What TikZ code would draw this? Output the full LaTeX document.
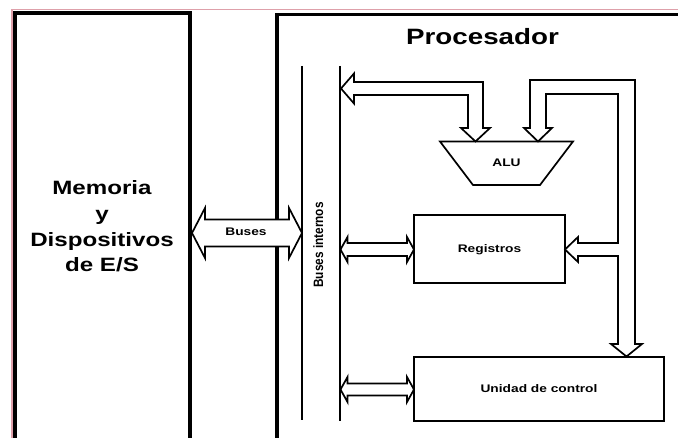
\documentclass[tikz,border=0pt]{standalone}
\usepackage{fontspec}
\setmainfont{Liberation Sans}
% horizontally widened lettering
\newcommand{\wideText}[1]{\scalebox{1.25}[1]{#1}}
% hollow double-headed horizontal arrow: x1, x2, y-centre, shaft half-height, head half-height, head length
\newcommand{\dblarrow}[6]{%
  \draw[hollow] (#1,#3) -- (#1+#6,#3-#5) -- (#1+#6,#3-#4) -- (#2-#6,#3-#4) -- (#2-#6,#3-#5)
    -- (#2,#3) -- (#2-#6,#3+#5) -- (#2-#6,#3+#4) -- (#1+#6,#3+#4) -- (#1+#6,#3+#5) -- cycle;}
\definecolor{edgepink}{RGB}{222,160,170}
\begin{document}
\begin{tikzpicture}[x=1pt,y=-1pt,
  frame/.style={line width=3.2pt,line join=miter},
  busline/.style={line width=1.7pt},
  hollow/.style={draw=black,fill=white,line width=1.7pt,line join=miter},
  box/.style={draw=black,line width=1.7pt,fill=white,inner sep=0pt,
    text height=8pt,text depth=0pt,font=\bfseries\fontsize{11}{13}\selectfont},
  lbl/.style={inner sep=0pt,anchor=base,font=\bfseries\fontsize{11}{13}\selectfont},
  big/.style={inner sep=0pt,anchor=base,font=\bfseries\fontsize{19.3}{22}\selectfont}]
\useasboundingbox (0,0) rectangle (678,438);
\fill[white] (0,0) rectangle (678,438);

% thin tinted edge
\draw[edgepink,line width=1.2pt] (12,440) -- (12,9.5) -- (680,9.5);

% memory / I-O block
\draw[frame] (15,440) -- (15,13) -- (190,13) -- (190,440);
\node[big] (m1) at (102,195) {\wideText{Memoria}};
\node[big] (m2) at (102,220.5) {\wideText{y}};
\node[big] (m3) at (102,247) {\wideText{Dispositivos}};
\node[big] (m4) at (102,272) {\wideText{de E/S}};

% processor block
\draw[frame] (277,440) -- (277,14.5) -- (680,14.5);
\node[inner sep=0pt,anchor=base,font=\bfseries\fontsize{22.2}{26}\selectfont] (proc) at (482.5,45) {\wideText{Procesador}};

% external buses
\dblarrow{192}{302}{233}{13.5}{25}{13}
\node[lbl] (buses) at (246,236) {\wideText{Buses}};

% internal bus lines
\draw[busline] (302,66) -- (302,420);
\draw[busline] (340,66) -- (340,421);
\node[inner sep=0pt,anchor=base,rotate=90,font=\bfseries\fontsize{11.8}{13}\selectfont] (bint) at (323,245) {\scalebox{1}[1.15]{Buses internos}};

% ALU
\draw[line width=1.7pt,line join=miter] (440,141.5) -- (573,141.5) -- (540,185) -- (473,185) -- cycle;
\node[lbl] (alu) at (506.5,167) {\wideText{ALU}};

% registers and control unit
\node[box,minimum width=151pt,minimum height=68pt] (reg) at (489.5,249) {\wideText{Registros}};
\node[box,minimum width=250pt,minimum height=64pt] (uc) at (539,389) {\wideText{Unidad de control}};

% internal bus <-> ALU input
\draw[hollow] (341,88.5) -- (354,73.5) -- (354,82) -- (483,82) -- (483,128) -- (490,128)
  -- (475.5,141.5) -- (461,128) -- (468,128) -- (468,95) -- (354,95) -- (354,103.5) -- cycle;

% ALU output -> ALU input, registers and control unit
\draw[hollow] (538,141.5) -- (552,128) -- (546,128) -- (546,94) -- (618,94) -- (618,243)
  -- (578,243) -- (578,237) -- (565,249.5) -- (578,262) -- (578,256) -- (618,256)
  -- (618,344) -- (611,344) -- (626.5,356.5) -- (642,344) -- (635,344) -- (635,80)
  -- (530,80) -- (530,128) -- (524,128) -- cycle;

% internal bus <-> registers / control unit
\dblarrow{340.5}{414}{249.5}{6.5}{12.5}{7}
\dblarrow{340.5}{414}{389.5}{6}{12.5}{7}
\end{tikzpicture}
\end{document}
